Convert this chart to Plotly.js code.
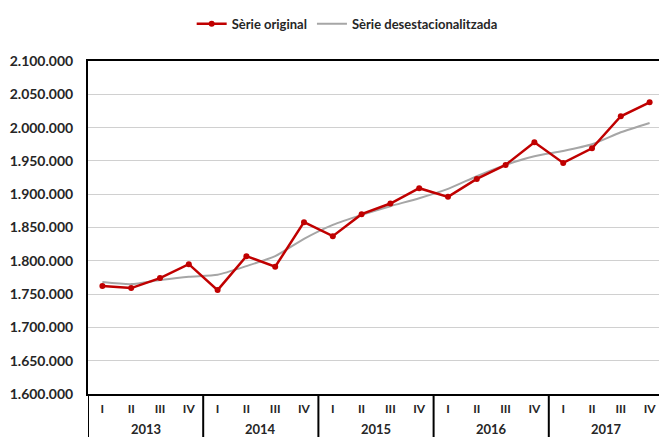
<!DOCTYPE html>
<html>
<head>
<meta charset="utf-8">
<script src="https://cdn.plot.ly/plotly-3.0.1.min.js"></script>
<style>
html,body{margin:0;padding:0;overflow:hidden;background:#fff;}
#chart{width:666px;height:470px;}
</style>
</head>
<body>
<div id="chart"></div>
<script>
const years = ["2013","2014","2015","2016","2017"];
const quarters = ["I","II","III","IV"];
const original = [1762000,1759000,1774000,1795000,1756000,1807000,1791000,1858000,1837000,1870000,
                  1886000,1909000,1896000,1923000,1944000,1978000,1947000,1969000,2017000,2038000];
const desest = [1768000,1765000,1771000,1776000,1779000,1792000,1807000,1833000,1854000,1869000,
                1882000,1894000,1908000,1927000,1944000,1957000,1965000,1975000,1993000,2007000];
const yTicks = [1600000,1650000,1700000,1750000,1800000,1850000,1900000,1950000,2000000,2050000,2100000];

const cats = [], qLabels = [];
years.forEach(y => quarters.forEach(q => { cats.push(y + " " + q); qLabels.push(q); }));

const fontFam = "Lato, 'Open Sans', sans-serif";
const txtCol = "#262626";

const traces = [
  {
    x: cats, y: desest, name: "Sèrie desestacionalitzada", type: "scatter", mode: "lines",
    line: {color: "#a6a6a6", width: 2, shape: "spline", smoothing: 0.6}
  },
  {
    x: cats, y: original, name: "Sèrie original", type: "scatter", mode: "lines+markers",
    line: {color: "#c00000", width: 2.5}, marker: {color: "#c00000", size: 6}
  }
];

const nq = quarters.length;
const shapes = [];
const annotations = [];
// year dividers below the axis (left edge and between years)
for (let i = 0; i < years.length; i++) {
  shapes.push({type: "line", xref: "x", yref: "paper", x0: i * nq - 0.5, x1: i * nq - 0.5,
               y0: 0, y1: -0.3, line: {color: "#000", width: 2}});
  annotations.push({xref: "x", yref: "paper", x: i * nq + (nq - 1) / 2, y: -0.104,
                    text: years[i], showarrow: false, xanchor: "center", yanchor: "middle",
                    font: {size: 13, family: fontFam, weight: "bold", color: txtCol}});
}

const layout = {
  width: 666, height: 470,
  margin: {l: 88, r: 2, t: 61, b: 76},
  separators: ",.",
  paper_bgcolor: "#fff", plot_bgcolor: "#fff",
  font: {family: fontFam, color: txtCol},
  showlegend: true,
  legend: {
    orientation: "h", x: 0.18, xanchor: "left", y: 1.112, yanchor: "middle",
    font: {size: 13, family: fontFam, weight: "bold", color: txtCol},
    traceorder: "reversed", bgcolor: "rgba(0,0,0,0)"
  },
  xaxis: {
    type: "category", range: [-0.5, cats.length - 0.5],
    tickvals: cats, ticktext: qLabels,
    showline: true, linecolor: "#000", linewidth: 2, mirror: true,
    showgrid: false, ticks: "", ticklabelstandoff: 3,
    tickfont: {size: 12, family: fontFam, weight: "bold", color: txtCol}
  },
  yaxis: {
    range: [1600000, 2100000], tickvals: yTicks, tickformat: ",d",
    showline: true, linecolor: "#000", linewidth: 2, mirror: true,
    showgrid: true, gridcolor: "#d0d0d0", gridwidth: 1, zeroline: false,
    ticks: "", ticklabelstandoff: 10,
    tickfont: {size: 14, family: fontFam, weight: "bold", color: txtCol}
  },
  shapes: shapes,
  annotations: annotations
};

Plotly.newPlot("chart", traces, layout, {displayModeBar: false, staticPlot: true});
</script>
</body>
</html>
